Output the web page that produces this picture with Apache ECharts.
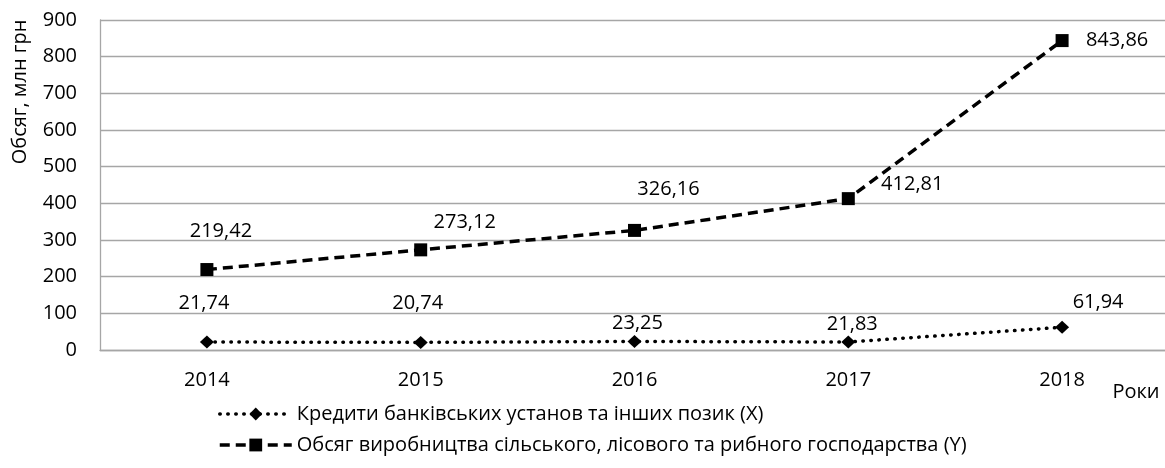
<!DOCTYPE html>
<html>
<head>
<meta charset="utf-8">
<script src="https://cdn.jsdelivr.net/npm/echarts@6/dist/echarts.min.js"></script>
<style>html,body{margin:0;padding:0;background:#fff;}#c{width:1165px;height:468px;}</style>
</head>
<body>
<div id="c"></div>
<script>
var years = ['2014', '2015', '2016', '2017', '2018'];
var creditsX = [21.74, 20.74, 23.25, 21.83, 61.94];
var outputY = [219.42, 273.12, 326.16, 412.81, 843.86];
var nameX = 'Кредити банківських установ та інших позик (X)';
var nameY = 'Обсяг виробництва сільського, лісового та рибного господарства (Y)';

var FONT = '"Open Sans", "Noto Sans", sans-serif';
var FS = 20;
var TXT = '#000';
var offX = [[-3, -39], [-3, -39], [3, -18], [4, -18], [36, -25]];
var offY = [[14, -38], [44, -28], [34, -41], [64, -14], [55, 0]];

var dotStyle = { color: '#000', width: 3.5, type: [0.5, 7.5], cap: 'round' };
var dashStyle = { color: '#000', width: 3.5, type: [10, 6] };

function fmt(v) { return v.toFixed(2).replace('.', ','); }
function build(vals, offs) {
  return vals.map(function (v, i) {
    return { value: v, label: { offset: offs[i] } };
  });
}

var chart = echarts.init(document.getElementById('c'));
chart.setOption({
  animation: false,
  textStyle: { fontFamily: FONT, color: TXT },
  grid: { left: 100, top: 20, width: 1069, height: 330, containLabel: false, outerBoundsMode: 'none' },
  xAxis: {
    type: 'category', data: years, boundaryGap: true,
    axisLine: { show: true, lineStyle: { color: '#a6a6a6', width: 1.3 } },
    axisTick: { show: false },
    axisLabel: { color: TXT, fontSize: FS, fontFamily: FONT, margin: 20 }
  },
  yAxis: {
    type: 'value', min: 0, max: 900, interval: 100,
    axisLine: { show: true, lineStyle: { color: '#a6a6a6', width: 1.3 } },
    axisTick: { show: false },
    splitLine: { lineStyle: { color: '#a6a6a6', width: 1.3 } },
    axisLabel: { color: TXT, fontSize: FS, fontFamily: FONT, margin: 23 }
  },
  legend: {
    orient: 'vertical', left: 213, top: 399, itemGap: 11,
    itemWidth: 72, itemHeight: 16,
    textStyle: { color: TXT, fontSize: FS, fontFamily: FONT },
    data: [
      { name: nameX, itemStyle: { color: '#000' }, lineStyle: dotStyle },
      { name: nameY, itemStyle: { color: '#000' }, lineStyle: dashStyle }
    ]
  },
  graphic: [{
    type: 'text', x: 20, y: 92, rotation: Math.PI / 2,
    style: { text: 'Обсяг, млн грн', fill: TXT, font: FS + 'px ' + FONT, align: 'center', verticalAlign: 'middle' }
  }, {
    type: 'text', x: 1136, y: 392,
    style: { text: 'Роки', fill: TXT, font: FS + 'px ' + FONT, align: 'center', verticalAlign: 'middle' }
  }],
  series: [{
    name: nameX, type: 'line', data: build(creditsX, offX),
    symbol: 'diamond', symbolSize: [14, 13],
    itemStyle: { color: '#000' },
    lineStyle: dotStyle,
    label: { show: true, position: 'inside', color: TXT, fontSize: FS, fontFamily: FONT,
      formatter: function (p) { return fmt(p.value); } }
  }, {
    name: nameY, type: 'line', data: build(outputY, offY),
    symbol: 'rect', symbolSize: 13,
    itemStyle: { color: '#000' },
    lineStyle: dashStyle,
    label: { show: true, position: 'inside', color: TXT, fontSize: FS, fontFamily: FONT,
      formatter: function (p) { return fmt(p.value); } }
  }]
});
</script>
</body>
</html>
